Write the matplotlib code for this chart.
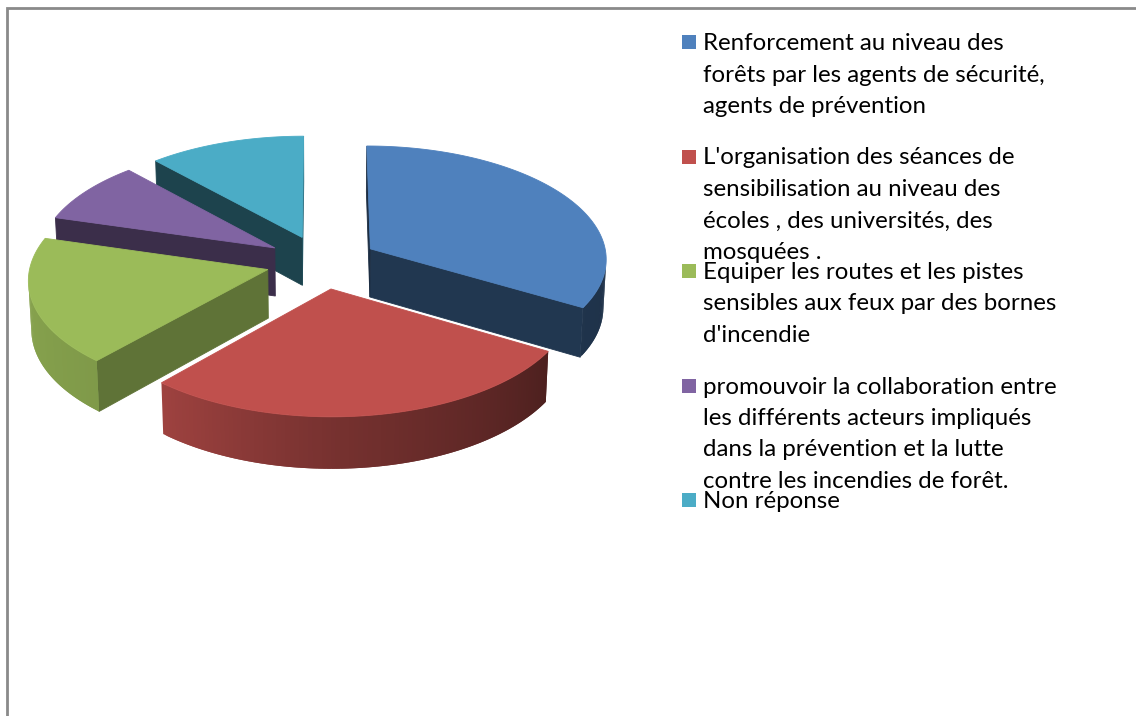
import numpy as np
import matplotlib.pyplot as plt
from matplotlib.patches import Polygon, Rectangle
from matplotlib.colors import to_rgb

labels = [
    "Renforcement au niveau des\nforêts par les agents de sécurité,\nagents de prévention",
    "L'organisation des séances de\nsensibilisation au niveau des\nécoles , des universités, des\nmosquées .",
    "Equiper les routes et les pistes\nsensibles aux feux par des bornes\nd'incendie",
    "promouvoir la collaboration entre\nles différents acteurs impliqués\ndans la prévention et la lutte\ncontre les incendies de forêt.",
    "Non réponse",
]
values = [33.5, 28, 18, 8.8, 11.7]
colors = ['#4F81BD', '#C0504D', '#9BBB59', '#8064A2', '#4BACC6']

# excel-like 3d view, everything in pixels
elev = np.radians(28.5)
dist = 11.0
scale = 237
cx, cy = 322, 262
thick = 0.235
explode = 0.237

cam = np.array([0.0, -dist * np.cos(elev), dist * np.sin(elev)])
fwd = np.array([0.0, np.cos(elev), -np.sin(elev)])
upv = np.array([0.0, np.sin(elev), np.cos(elev)])


def project(pts):
    v = np.asarray(pts) - cam
    z = v @ fwd
    return np.column_stack([cx + scale * dist * v[:, 0] / z,
                            cy - scale * dist * (v @ upv) / z])


def shade(c, f):
    return tuple(np.clip(np.array(to_rgb(c)) * f, 0, 1))


def visible(normal, pts):
    return np.dot(normal, cam - pts.mean(axis=0)) > 0


def draw_face(pts, col, lw=0.6):
    ax.add_patch(Polygon(project(pts), closed=True, fc=col, ec=col, lw=lw))


fig = plt.figure(figsize=(11.36, 7.16), dpi=100)
ax = fig.add_axes([0, 0, 1, 1])
ax.set_xlim(0, 1136)
ax.set_ylim(716, 0)
ax.axis('off')

# slices run clockwise from 12 o'clock
span = np.array(values) / sum(values) * 360
ends = 90 - np.cumsum(span)
starts = ends + span

slices = []
for i in range(len(values)):
    t0, t1 = np.radians(ends[i]), np.radians(starts[i])
    mid = (t0 + t1) / 2
    off = explode * np.array([np.cos(mid), np.sin(mid), 0.0])
    slices.append((np.sin(mid), i, t0, t1, off))

down = np.array([0, 0, -thick])
for _, i, t0, t1, off in sorted(slices, reverse=True):
    c = colors[i]
    # side walls through the centre
    for t, sgn in ((t0, -1), (t1, 1)):
        e = off + np.array([np.cos(t), np.sin(t), 0])
        quad = np.array([off, e, e + down, off + down])
        n = sgn * np.array([-np.sin(t), np.cos(t), 0])
        if visible(n, quad):
            draw_face(quad, shade(c, 0.5 + 0.15 * n[0]))
    # outer wall, in thin overlapping strips for the gradient
    ts = np.linspace(t0, t1, max(int(np.degrees(t1 - t0)), 2) + 1)
    rim = np.column_stack([np.cos(ts), np.sin(ts), np.zeros_like(ts)]) + off
    for j in range(len(ts) - 1):
        k = min(j + 2, len(ts) - 1)
        tm = (ts[j] + ts[j + 1]) / 2
        quad = np.vstack([rim[j:k + 1], rim[j:k + 1][::-1] + down])
        n = np.array([np.cos(tm), np.sin(tm), 0])
        if visible(n, quad):
            deg = (np.degrees(tm) - 90) % 360 + 90
            f = np.interp(deg, [90, 180, 230, 270, 330, 360, 450],
                          [0.9, 0.88, 0.82, 0.62, 0.40, 0.38, 0.38])
            draw_face(quad, shade(c, f), lw=0)
    draw_face(np.vstack([off, rim]), c)

# legend, drawn by hand so long labels run into each other like the original
for i, lab in enumerate(labels):
    y = 50 + i * 114.5
    ax.add_patch(Rectangle((682, y - 15), 14, 14, fc=colors[i], ec='none'))
    for k, line in enumerate(lab.split('\n')):
        ax.text(703, y + k * 31.5, line, fontsize=17.3, family='Lato',
                va='baseline', ha='left', color='black')

ax.plot([7, 7, 1136], [716, 8, 8], color='#8a8a8a', lw=2, solid_joinstyle='miter')

fig.savefig('out.png', dpi=100)
